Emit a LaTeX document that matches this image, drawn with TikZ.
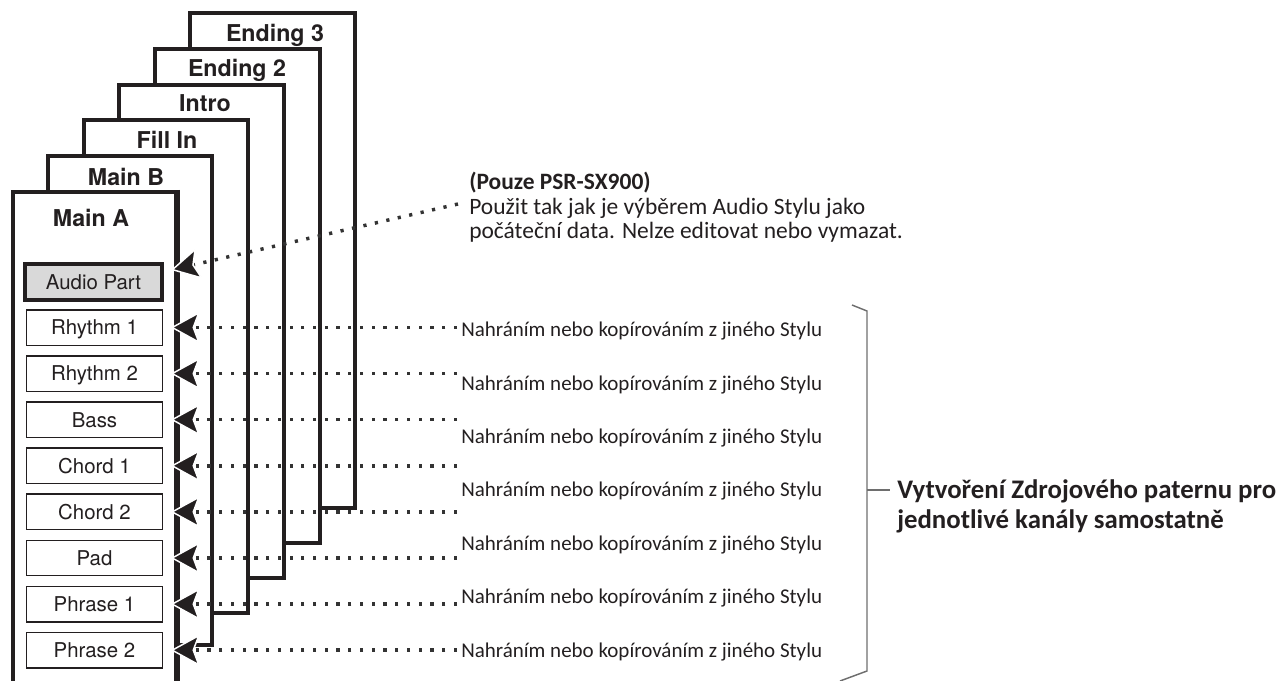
\documentclass[tikz,border=0pt]{standalone}
\usepackage{fontspec}
\setmainfont{Carlito}
\newfontfamily\helv{TeX Gyre Heros}
\usetikzlibrary{arrows.meta}
\definecolor{ink}{HTML}{231F20}
\definecolor{dotgrey}{HTML}{333333}
\definecolor{audiofill}{HTML}{D9D9D9}
\definecolor{brack}{HTML}{6E6E6E}
\begin{document}
\begin{tikzpicture}[x=0.75pt,y=-0.75pt,
  panel/.style={draw=ink, line width=3pt, fill=white, line join=miter},
  paneltitle/.style={font=\helv\bfseries\fontsize{17.4pt}{19pt}\selectfont, text=ink, inner sep=0pt, text height=12.5pt, text depth=0pt},
  part/.style={draw=ink, line width=1.1pt, fill=white, minimum width=102pt, minimum height=26.6pt, inner sep=0pt, font=\helv\fontsize{15.3pt}{17pt}\selectfont, text=ink, text height=11pt, text depth=0pt},
  audiopart/.style={part, line width=3pt, fill=audiofill, minimum width=103pt, minimum height=27pt},
  feed/.style={draw=dotgrey, line width=2.6pt, line cap=butt, dash pattern=on 2.4pt off 6.4pt, -{Stealth[length=22pt,width=24pt,inset=4.5pt,color=white,fill=ink,line width=1.1pt]}},
  note/.style={font=\fontsize{15.75pt}{18pt}\selectfont, text=ink, inner sep=0pt, anchor=west, text height=10.1pt, text depth=0pt},
  block/.style={inner sep=0pt, align=left, text=ink},
]
\useasboundingbox (0,0) rectangle (1279,681);
\clip (0,0) rectangle (1279,681);

% stacked section panels (back to front)
\draw[panel] (190,13) rectangle (355,508);
\node[paneltitle] (tE3) at (275,33) {Ending 3};
\draw[panel] (155,49) rectangle (320,543);
\node[paneltitle] (tE2) at (237,68) {Ending 2};
\draw[panel] (119,85) rectangle (284,578);
\node[paneltitle] (tIn) at (205,103) {Intro};
\draw[panel] (84,120) rectangle (248,613);
\node[paneltitle] (tFi) at (167,140) {Fill In};
\draw[panel] (48,156) rectangle (212,645);
\node[paneltitle] (tMB) at (126,177) {Main B};
\draw[panel] (13,192) rectangle (177,720);
\draw[draw=ink, line width=4.5pt] (177,190) -- (177,720);
\node[paneltitle] (tMA) at (91,218) {Main A};

% parts
\node[audiopart] (ap) at (93.5,281.7) {Audio Part};
\foreach \i/\t in {1/Rhythm 1,2/Rhythm 2,3/Bass,4/Chord 1,5/Chord 2,6/Pad,7/Phrase 1,8/Phrase 2}{
  \node[part] (r\i) at (94.5,{327.5+46.1*(\i-1)}) {\t};
  \coordinate (s\i) at (457,{327.5+46.1*(\i-1)});
}

% notes
\node[block, anchor=north west, font=\fontsize{17.6pt}{18.4pt}\selectfont] (top) at (469,172)
  {\textbf{(Pouze PSR-SX900)}\\Použit tak jak je výběrem Audio Stylu jako\\počáteční data. Nelze editovat nebo vymazat.};
\coordinate (sA) at (458,204);
\coordinate (tA) at (171,270);

\foreach \k in {1,...,7}{
  \node[note] (n\k) at (461,{330+53.4*(\k-1)}) {Nahráním nebo kopírováním z jiného Stylu};
}

% connectors
\draw[feed] (sA) -- (tA);
\foreach \i in {1,...,8}{
  \draw[feed] (s\i) -- ([xshift=5.6pt]r\i.east);
}

% bracket
\draw[draw=brack, line width=1.1pt] (852,305) -- (867,311) -- (867,671) -- (840,681);
\coordinate (bmid) at (867,490);
\node[block, anchor=west, font=\bfseries\fontsize{20.1pt}{22.5pt}\selectfont] (vy) at (897,506)
  {Vytvoření Zdrojového paternu pro\\jednotlivé kanály samostatně};
\draw[draw=brack, line width=1.1pt] (bmid) -- (890,490);
\end{tikzpicture}
\end{document}
